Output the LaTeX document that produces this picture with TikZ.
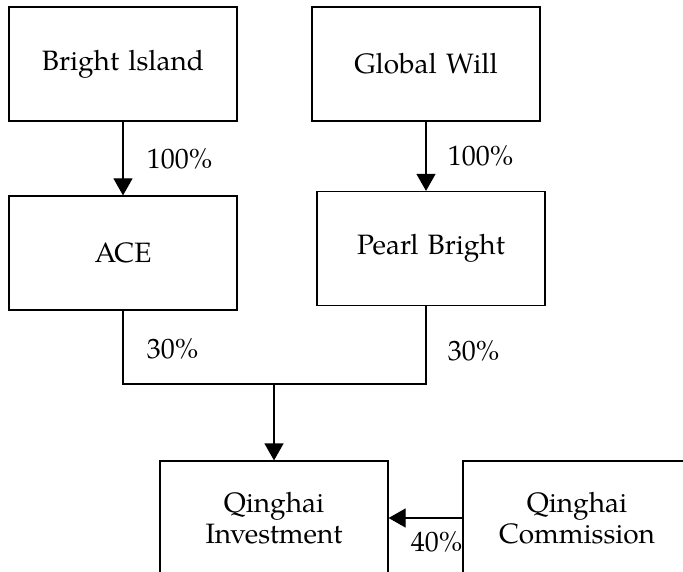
\documentclass[tikz,border=0pt]{standalone}
\usepackage{fontspec}
\setmainfont{TeX Gyre Pagella}
\usepackage{tikz}
\usetikzlibrary{arrows.meta}
\usetikzlibrary{positioning}

\begin{document}
\begin{tikzpicture}[node distance=94.5pt, auto, line width=0.6pt, >={Triangle[width=9.5pt,length=8.5pt]}]
            \useasboundingbox (0,0) rectangle (341.5pt,-285.5pt);
            \clip (0,0) rectangle (341.5pt,-285.5pt);
            \fontsize{14pt}{15.5pt}\selectfont
            % Define blocks
            \node [rectangle, draw, text centered, text width=100pt, minimum width=114pt, minimum height=57pt] at (61.5pt,-32pt) (bright) {Bright lsland};
            \node [rectangle, draw, text centered, text width=100pt, minimum width=114pt, minimum height=57pt, right of=bright, xshift=57pt] (global) {Global Will};
            \node [rectangle, draw, text centered, text width=100pt, minimum width=114pt, minimum height=57pt, below of=bright] (ace) {ACE};
            \node [rectangle, draw, text centered, text width=100pt, minimum width=114pt, minimum height=57pt, below of=global, xshift=2.5pt, yshift=2.25pt] (pearl) {Pearl Bright};
            \node [rectangle, draw, text centered, text width=100pt, minimum width=114pt, minimum height=57pt, below of=ace, xshift=75.5pt, yshift=-38pt] (invest) {Qinghai \\ Investment};
            \node [rectangle, draw, text centered, text width=100pt, minimum width=114pt, minimum height=57pt, right of=invest, xshift=57pt] (comm) {Qinghai \\ Commission};
            \coordinate (split) at (137pt,-192pt);
        
            % Define arrows
            \draw [->] (bright) -- node [right, xshift=7pt] {100\%} (ace);
            \draw [->] (global.south) -- node [right, xshift=6pt] {100\%} (global.south |- pearl.north);
            \draw (ace.south) |- node [pos=0.26, right, xshift=7pt] {30\%} (split);
            \draw (split) -| node [pos=0.715, right, xshift=6pt] {30\%} (global.south |- pearl.south);
            \draw [->] (split) -- (invest.north);
            \draw [->] (comm.west) -- node [pos=0.35, below, yshift=-2pt] {40\%} (invest.east);
        \end{tikzpicture}
\end{document}
